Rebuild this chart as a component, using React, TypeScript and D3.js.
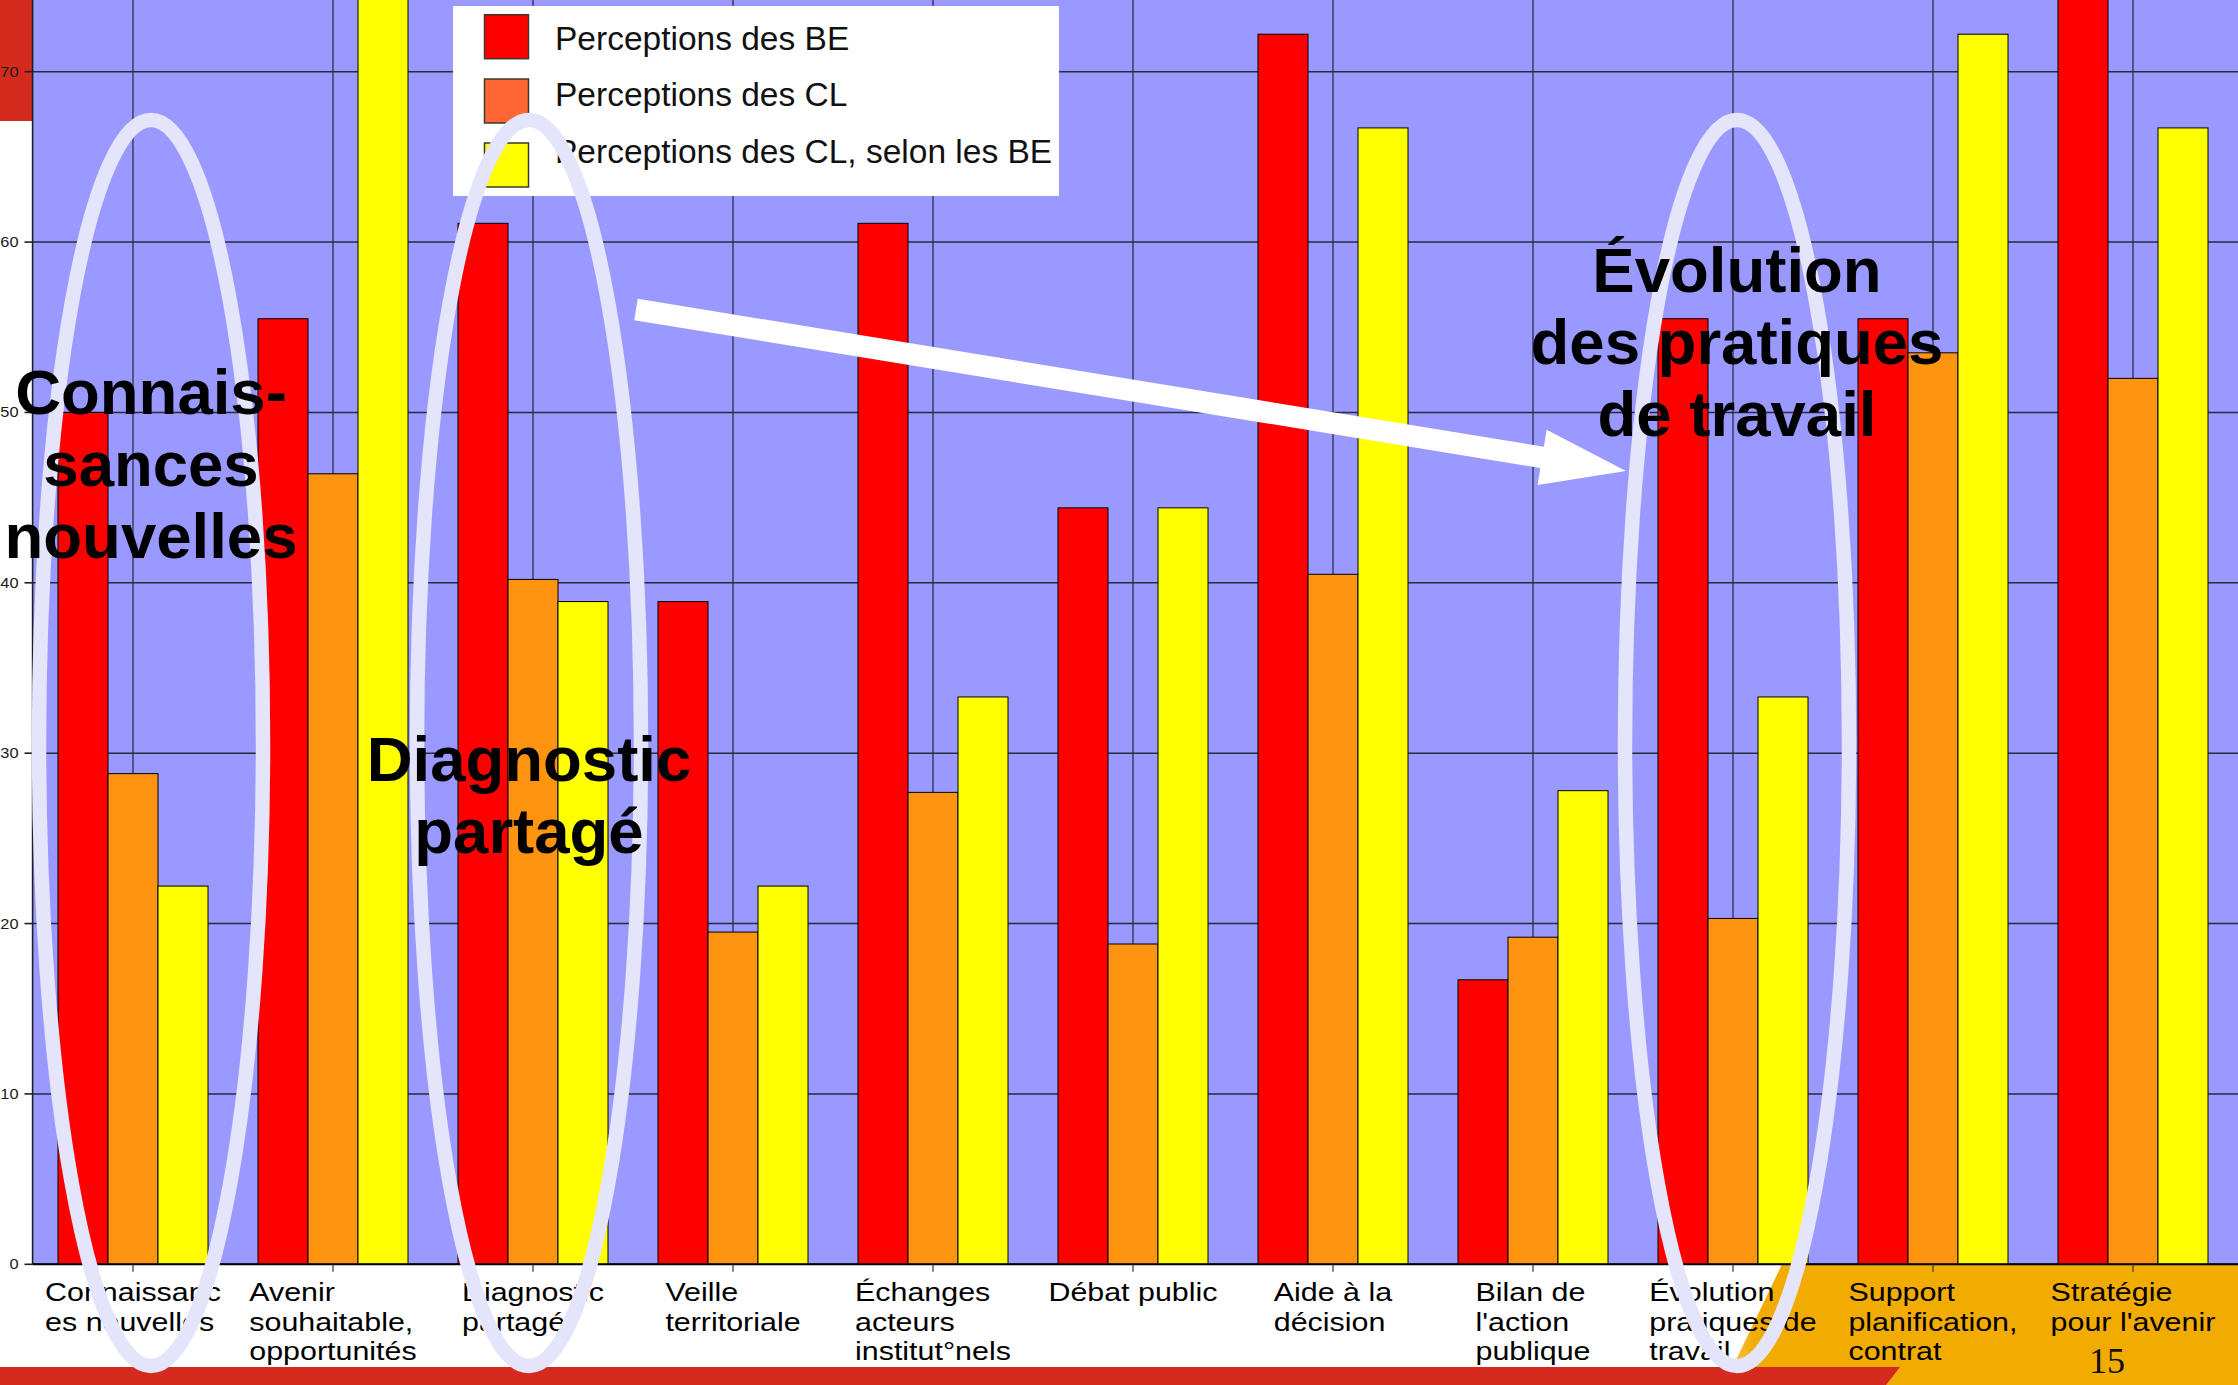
import React, { useEffect, useRef } from 'react';
import * as d3 from 'd3';

const W = 2238;
const H = 1385;

const categories = [
  'Connaissances nouvelles',
  'Avenir souhaitable, opportunités',
  'Diagnostic partagé',
  'Veille territoriale',
  'Échanges acteurs institut°nels',
  'Débat public',
  'Aide à la décision',
  "Bilan de l'action publique",
  'Évolution pratiques de travail',
  'Support planification, contrat',
  "Stratégie pour l'avenir",
];

const categoryLabelLines = [
  ['Connaissanc', 'es nouvelles'],
  ['Avenir', 'souhaitable,', 'opportunités'],
  ['Diagnostic', 'partagé'],
  ['Veille', 'territoriale'],
  ['Échanges', 'acteurs', 'institut°nels'],
  ['Débat public'],
  ['Aide à la', 'décision'],
  ['Bilan de', "l'action", 'publique'],
  ['Évolution', 'pratiques de', 'travail'],
  ['Support', 'planification,', 'contrat'],
  ['Stratégie', "pour l'avenir"],
];

const seriesNames = ['Perceptions des BE', 'Perceptions des CL', 'Perceptions des CL, selon les BE'];
const perceptionsBE = [50.0, 55.5, 61.1, 38.9, 61.1, 44.4, 72.2, 16.7, 55.5, 55.5, 77.8];
const perceptionsCL = [28.8, 46.4, 40.2, 19.5, 27.7, 18.8, 40.5, 19.2, 20.3, 53.5, 52.0];
const perceptionsCLselonBE = [22.2, 77.8, 38.9, 22.2, 33.3, 44.4, 66.7, 27.8, 33.3, 72.2, 66.7];
const seriesValues = [perceptionsBE, perceptionsCL, perceptionsCLselonBE];
const barColors = ['#FF0000', '#FF9410', '#FFFF00'];
const legendColors = ['#FF0000', '#FF6633', '#FFFF00'];

const yTicks = [0, 10, 20, 30, 40, 50, 60, 70];
const yTickLabels = ['0', '10', '20', '30', '40', '50', '60', '70'];
const yGridExtra = [80];

// Slide annotations (ellipses around categories + big bold captions)
const calloutCategories = [0, 2, 8];
const calloutLines = [
  ['Connais-', 'sances', 'nouvelles'],
  ['Diagnostic', 'partagé'],
  ['Évolution', 'des pratiques', 'de travail'],
];
const calloutShift = [18, -4, 4];
const calloutFirstBaseline = [414, 781, 292];
const arrowFrom = [636, 309.5];
const arrowTo = [1626, 471];
const pageNumber = '15';

const FONT = "'Liberation Sans', Arial, Helvetica, sans-serif";

export default function App() {
  const ref = useRef<SVGSVGElement>(null);

  useEffect(() => {
    const svg = d3.select(ref.current);
    svg.selectAll('*').remove();

    const plotLeft = 32.6;
    const plotBottom = 1264.3;

    const x0 = d3.scaleBand<string>().domain(categories).range([33, 2233]).paddingInner(0.25).paddingOuter(0.125);
    const x1 = d3.scaleBand<string>().domain(seriesNames).range([0, x0.bandwidth()]);
    const y = d3.scaleLinear().domain([0, 70]).range([plotBottom, 71.7]);
    const cx = (c: string) => (x0(c) as number) + x0.bandwidth() / 2;

    // slide background
    svg.append('rect').attr('x', 0).attr('y', 0).attr('width', W).attr('height', H).attr('fill', '#FFFFFF');

    const defs = svg.append('defs');
    const og = defs.append('linearGradient').attr('id', 'orgrad').attr('x1', 0).attr('x2', 1).attr('y1', 0).attr('y2', 0);
    og.append('stop').attr('offset', '0').attr('stop-color', '#F6C96A');
    og.append('stop').attr('offset', '0.06').attr('stop-color', '#F2AB00');
    og.append('stop').attr('offset', '1').attr('stop-color', '#F2AB00');

    // orange decoration bottom right
    svg.append('polygon')
      .attr('points', `1782,${plotBottom} ${W},${plotBottom} ${W},${H} 1724,${H}`)
      .attr('fill', 'url(#orgrad)');
    // red band bottom
    svg.append('polygon')
      .attr('points', `0,1367 1900,1367 1886,${H} 0,${H}`)
      .attr('fill', '#D52A1E');
    // red block top-left
    svg.append('rect').attr('x', 0).attr('y', 0).attr('width', 32).attr('height', 121).attr('fill', '#D52A1E');

    // plot background
    svg.append('rect')
      .attr('x', plotLeft).attr('y', -200)
      .attr('width', W - plotLeft).attr('height', plotBottom + 200)
      .attr('fill', '#9999FF');

    // gridlines
    svg.append('g').selectAll('line').data(yTicks.concat(yGridExtra)).join('line')
      .attr('x1', plotLeft).attr('x2', W)
      .attr('y1', (d) => y(d)).attr('y2', (d) => y(d))
      .attr('stroke', '#2B2B3C').attr('stroke-width', 1.6);
    svg.append('g').selectAll('line').data(categories).join('line')
      .attr('x1', (d) => cx(d)).attr('x2', (d) => cx(d))
      .attr('y1', -200).attr('y2', plotBottom)
      .attr('stroke', '#26263A').attr('stroke-width', 1.2);

    // bars
    const groups = svg.append('g').selectAll('g').data(categories).join('g')
      .attr('transform', (d) => `translate(${x0(d)},0)`);
    groups.selectAll('rect')
      .data((d, i) => seriesNames.map((s, k) => ({ s, k, v: seriesValues[k][i] })))
      .join('rect')
      .attr('x', (d) => x1(d.s) as number)
      .attr('width', x1.bandwidth())
      .attr('y', (d) => y(d.v))
      .attr('height', (d) => plotBottom - y(d.v))
      .attr('fill', (d) => barColors[d.k])
      .attr('stroke', '#000')
      .attr('stroke-width', 1);

    // axes
    svg.append('line').attr('x1', plotLeft).attr('x2', plotLeft).attr('y1', -10).attr('y2', plotBottom)
      .attr('stroke', '#1E1E2A').attr('stroke-width', 1.6);
    svg.append('line').attr('x1', plotLeft).attr('x2', W).attr('y1', plotBottom).attr('y2', plotBottom)
      .attr('stroke', '#000').attr('stroke-width', 2);
    svg.append('g').selectAll('line').data(yTicks).join('line')
      .attr('x1', 24.5).attr('x2', plotLeft).attr('y1', (d) => y(d)).attr('y2', (d) => y(d))
      .attr('stroke', '#1E1E2A').attr('stroke-width', 1.6);
    svg.append('g').selectAll('line').data(categories).join('line')
      .attr('x1', (d) => cx(d)).attr('x2', (d) => cx(d))
      .attr('y1', plotBottom).attr('y2', plotBottom + 7.5)
      .attr('stroke', '#333').attr('stroke-width', 1.2);

    // y tick labels
    svg.append('g').selectAll('text').data(yTicks).join('text')
      .attr('transform', (d) => `translate(18.5,${y(d)}) scale(1.17,1)`)
      .attr('text-anchor', 'end')
      .attr('dominant-baseline', 'central')
      .attr('font-family', FONT).attr('font-size', 14).attr('fill', '#1a1a1a')
      .text((d, i) => yTickLabels[i]);

    // x category labels: left-aligned block centred on tick
    const sx = 1.17;
    const baselines = [1301, 1330.5, 1360];
    categories.forEach((c, i) => {
      const g = svg.append('g');
      const texts = g.selectAll('text').data(categoryLabelLines[i]).join('text')
        .attr('x', 0).attr('y', (d, k) => baselines[k])
        .attr('font-family', FONT).attr('font-size', 26).attr('fill', '#000')
        .text((d) => d);
      let maxW = 0;
      texts.each(function () {
        const w = (this as SVGTextElement).getComputedTextLength();
        if (w > maxW) maxW = w;
      });
      g.attr('transform', `translate(${cx(c) - (maxW * sx) / 2},0) scale(${sx},1)`);
    });

    // legend
    const legend = svg.append('g');
    legend.append('rect').attr('x', 453).attr('y', 6).attr('width', 606).attr('height', 190).attr('fill', '#FFFFFF');
    const swY = [14.7, 79, 143];
    const txY = [49.5, 106, 162.8];
    seriesNames.forEach((s, k) => {
      legend.append('rect').attr('x', 484.5).attr('y', swY[k]).attr('width', 44).attr('height', 44)
        .attr('fill', legendColors[k]).attr('stroke', '#3a3a2a').attr('stroke-width', 1.5);
      legend.append('text').attr('x', 555).attr('y', txY[k])
        .attr('font-family', FONT).attr('font-size', 33.5).attr('fill', '#111')
        .text(s);
    });

    // ellipses
    svg.append('g').selectAll('ellipse').data(calloutCategories).join('ellipse')
      .attr('cx', (d, i) => cx(categories[d]) + calloutShift[i])
      .attr('cy', 743)
      .attr('rx', 112)
      .attr('ry', 623)
      .attr('fill', 'none')
      .attr('stroke', '#E4E4FA')
      .attr('stroke-width', 14.5);

    // arrow
    const dx = arrowTo[0] - arrowFrom[0];
    const dy = arrowTo[1] - arrowFrom[1];
    const len = Math.hypot(dx, dy);
    const ux = dx / len, uy = dy / len;
    const nx = -uy, ny = ux;
    const hw = 10.8, headLen = 85, headHw = 28;
    const bx = arrowTo[0] - ux * headLen, by = arrowTo[1] - uy * headLen;
    const pts = [
      [arrowFrom[0] + nx * hw, arrowFrom[1] + ny * hw],
      [bx + nx * hw, by + ny * hw],
      [bx + nx * headHw, by + ny * headHw],
      [arrowTo[0], arrowTo[1]],
      [bx - nx * headHw, by - ny * headHw],
      [bx - nx * hw, by - ny * hw],
      [arrowFrom[0] - nx * hw, arrowFrom[1] - ny * hw],
    ];
    svg.append('polygon').attr('points', pts.map((p) => p.join(',')).join(' ')).attr('fill', '#FFFFFF');

    // big bold captions
    calloutCategories.forEach((c, i) => {
      svg.append('g').selectAll('text').data(calloutLines[i]).join('text')
        .attr('x', cx(categories[c]) + calloutShift[i])
        .attr('y', (d, k) => calloutFirstBaseline[i] + k * 72)
        .attr('text-anchor', 'middle')
        .attr('font-family', FONT).attr('font-weight', 'bold').attr('font-size', 63.5)
        .attr('fill', '#000')
        .text((d) => d);
    });

    // page number
    svg.append('text').attr('x', 2107).attr('y', 1373).attr('text-anchor', 'middle')
      .attr('font-family', "'Liberation Serif', 'Times New Roman', serif").attr('font-size', 36)
      .attr('fill', '#111').text(pageNumber);
  }, []);

  return (
    <svg
      ref={ref}
      width={W}
      height={H}
      style={{ position: 'absolute', left: 0, top: 0, display: 'block', overflow: 'hidden' }}
    />
  );
}
